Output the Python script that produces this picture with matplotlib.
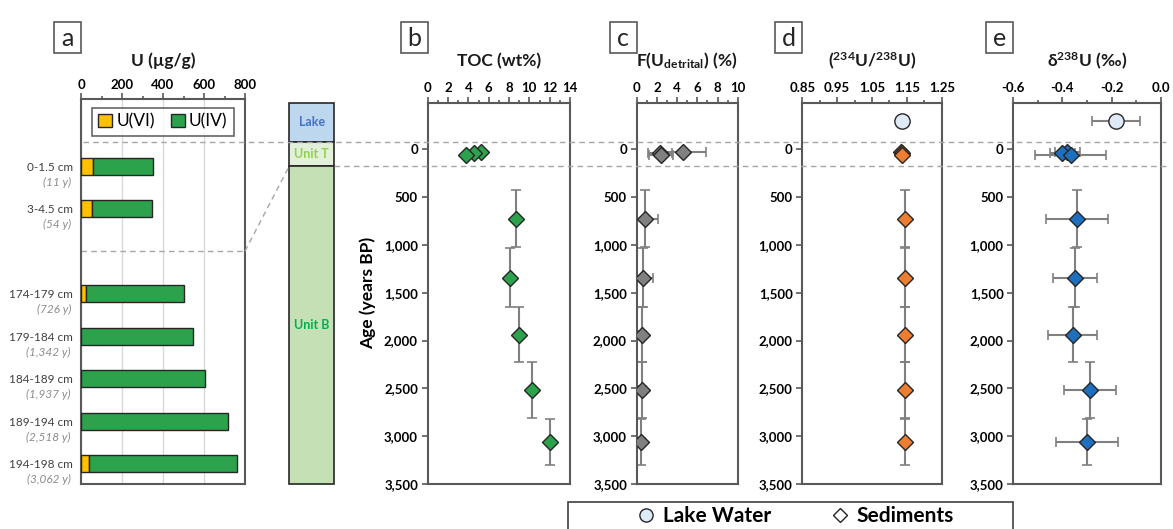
import matplotlib
matplotlib.use('Agg')
import matplotlib.pyplot as plt
from matplotlib.patches import Rectangle
from matplotlib.lines import Line2D
from matplotlib.ticker import MultipleLocator, FixedLocator, FuncFormatter, FormatStrFormatter
import matplotlib.transforms as mtransforms

plt.rcParams['font.family'] = ['Lato', 'DejaVu Sans']
plt.rcParams['mathtext.fontset'] = 'custom'
plt.rcParams['mathtext.rm'] = 'Lato'
plt.rcParams['mathtext.bf'] = 'Lato:bold'
plt.rcParams['mathtext.it'] = 'Lato:italic'
plt.rcParams['mathtext.sf'] = 'Lato'
plt.rcParams['axes.unicode_minus'] = False

# ---------------- data ----------------
depth_labels = ["0-1.5 cm", "3-4.5 cm", "174-179 cm", "179-184 cm",
                "184-189 cm", "189-194 cm", "194-198 cm"]
age_labels = ["(11 y)", "(54 y)", "(726 y)", "(1,342 y)", "(1,937 y)",
              "(2,518 y)", "(3,062 y)"]
u_vi = [58, 54, 24, 0, 0, 0, 39]
u_iv = [293, 294, 480, 545, 603, 719, 721]

units = ["Lake", "Unit T", "Unit B"]
unit_top = [-487, -76, 175]
unit_bottom = [-76, 175, 3500]

surf_ages = [25, 38, 60]
core_ages = [726, 1342, 1937, 2518, 3062]
core_age_err = [300, 305, 290, 295, 240]
lake_age = [-300]

toc_surf = [5.2, 4.6, 3.8]
toc_core = [8.7, 8.1, 9.0, 10.3, 12.05]

fdet_surf = [4.6, 2.3, 2.4]
fdet_surf_err = [2.3, 1.15, 1.15]
fdet_core = [0.82, 0.66, 0.5, 0.5, 0.4]
fdet_core_err = [1.3, 1.0, 0.4, 0.4, 0.4]

ar_lake = [1.137]
ar_surf = [1.133, 1.135, 1.137]
ar_core = [1.145, 1.145, 1.145, 1.146, 1.146]
ar_core_err = [0.004, 0.004, 0.004, 0.004, 0.004]

d238_lake = [-0.183]
d238_lake_err = [0.097]
d238_surf = [-0.38, -0.40, -0.367]
d238_surf_err = [0.05, 0.05, 0.145]
d238_core = [-0.34, -0.349, -0.358, -0.288, -0.30]
d238_core_err = [0.126, 0.09, 0.10, 0.107, 0.126]

# ---------------- layout helpers ----------------
W, H = 1173, 529
fig = plt.figure(figsize=(W / 100, H / 100), dpi=100)


def rect(l, t, r, b):
    return [l / W, 1 - b / H, (r - l) / W, (b - t) / H]


SP = '#595959'
DASH = '#a6a6a6'
ECOL = '#808080'
EDGE = '#262626'
MS = 8.5

# ---------------- panel a ----------------
ax_a = fig.add_axes(rect(81, 99, 245, 484))
bar_pos = [0, 1, 3, 4, 5, 6, 7]
ax_a.barh(bar_pos, u_vi, height=0.4, color='#ffc000', edgecolor=EDGE, lw=1, label='U(VI)', zorder=3)
ax_a.barh(bar_pos, u_iv, left=u_vi, height=0.4, color='#2ca24c', edgecolor=EDGE, lw=1, label='U(IV)', zorder=3)
ax_a.set_xlim(0, 800)
ax_a.set_ylim(7.48, -1.58)
ax_a.xaxis.tick_top()
ax_a.xaxis.set_major_locator(MultipleLocator(200))
ax_a.xaxis.set_minor_locator(MultipleLocator(100))
ax_a.grid(axis='x', which='major', color='#d9d9d9', lw=1, zorder=0)
ax_a.set_axisbelow(True)
ax_a.tick_params(axis='x', which='major', length=4, width=1.2, color=SP, labelsize=9.5, pad=2)
ax_a.tick_params(axis='x', which='minor', length=2.5, width=1.2, color=SP)
for lab in ax_a.get_xticklabels():
    lab.set_fontweight('bold')
ax_a.set_yticks(bar_pos, depth_labels)
ax_a.tick_params(axis='y', length=0, labelsize=8.5, labelcolor='#404040', pad=6)
for p, lab in zip(bar_pos, age_labels):
    ax_a.annotate(lab, xy=(0, p), xycoords=('axes fraction', 'data'), xytext=(-10, -16),
                  textcoords='offset pixels', ha='right', va='center', style='italic',
                  color='#8c8c8c', fontsize=8.5)
for s in ax_a.spines.values():
    s.set_color(SP)
    s.set_linewidth(1.5)
ax_a.axhline(2, color=DASH, ls=(0, (4, 3)), lw=1, zorder=1)
leg = ax_a.legend(loc='upper center', bbox_to_anchor=(0.5, 1), ncol=2, frameon=True, fancybox=False,
                  edgecolor='#404040', fontsize=12.5, handlelength=0.8, handleheight=0.8,
                  handletextpad=0.25, columnspacing=0.9, borderaxespad=0.5, borderpad=0.35)
leg.get_frame().set_linewidth(1.2)

# ---------------- lithology column ----------------
ax_col = fig.add_axes(rect(289.3, 102.7, 334, 484))
ax_col.set_xlim(0, 1)
ax_col.set_ylim(3500, -487)
ax_col.axis('off')
col_fill = ['#bdd7ee', '#e2f0d9', '#c5e0b4']
col_text = ['#4472c4', '#92d050', '#00b050']
for name, t, b, fc, tc in zip(units, unit_top, unit_bottom, col_fill, col_text):
    ax_col.bar(0.5, b - t, bottom=t, width=1, color=fc, edgecolor=EDGE, lw=1.2, clip_on=False)
    ax_col.text(0.5, (t + b) / 2, name, ha='center', va='center', color=tc,
                fontweight='bold', fontsize=9)

# ---------------- panels b-e ----------------
age_fmt = FuncFormatter(lambda v, p: f'{int(v):,}')


def setup(ax, xlim, major, minor, xfmt=None):
    ax.set_xlim(*xlim)
    ax.set_ylim(3500, -487)
    ax.xaxis.tick_top()
    ax.xaxis.set_major_locator(major)
    ax.xaxis.set_minor_locator(minor)
    if xfmt is not None:
        ax.xaxis.set_major_formatter(xfmt)
    ax.set_yticks(range(0, 3501, 500))
    ax.yaxis.set_major_formatter(age_fmt)
    ax.tick_params(axis='x', which='major', length=4, width=1.2, color=SP, labelsize=9.5, pad=2)
    ax.tick_params(axis='x', which='minor', length=2.5, width=1.2, color=SP)
    ax.tick_params(axis='y', length=4, width=1.2, color=SP, labelsize=9.5, pad=3)
    for lab in ax.get_xticklabels() + ax.get_yticklabels():
        lab.set_fontweight('bold')
    for s in ax.spines.values():
        s.set_color(SP)
        s.set_linewidth(1.5)


def errs(ax, x, y, xerr=None, yerr=None):
    ax.errorbar(x, y, xerr=xerr, yerr=yerr, fmt='none', ecolor=ECOL, elinewidth=1.5,
                capsize=3.5, capthick=1.2, zorder=2)


ax_b = fig.add_axes(rect(427.7, 102.7, 570, 484))
setup(ax_b, (0, 14), MultipleLocator(2), MultipleLocator(1))
errs(ax_b, toc_core, core_ages, yerr=core_age_err)
ax_b.plot(toc_surf, surf_ages, 'D', ms=MS, mfc='#2ca24c', mec=EDGE, mew=1, zorder=3)
ax_b.plot(toc_core, core_ages, 'D', ms=MS, mfc='#2ca24c', mec=EDGE, mew=1, zorder=3)

ax_c = fig.add_axes(rect(636.7, 102.7, 737.7, 484))
setup(ax_c, (0, 10), MultipleLocator(2), MultipleLocator(1))
errs(ax_c, fdet_surf, surf_ages, xerr=fdet_surf_err)
errs(ax_c, fdet_core, core_ages, xerr=fdet_core_err, yerr=core_age_err)
ax_c.plot(fdet_surf, surf_ages, 'D', ms=MS, mfc='#808080', mec=EDGE, mew=1, zorder=3)
ax_c.plot(fdet_core, core_ages, 'D', ms=MS, mfc='#808080', mec=EDGE, mew=1, zorder=3)

ax_d = fig.add_axes(rect(802.3, 102.7, 941.7, 484))
setup(ax_d, (0.85, 1.25), FixedLocator([0.85, 0.95, 1.05, 1.15, 1.25]),
      FixedLocator([0.9, 1.0, 1.1, 1.2]), FormatStrFormatter('%.2f'))
errs(ax_d, ar_core, core_ages, xerr=ar_core_err, yerr=core_age_err)
ax_d.plot(ar_lake, lake_age, 'o', ms=11, mfc='#deebf7', mec=EDGE, mew=1, zorder=3)
ax_d.plot(ar_surf, surf_ages, 'D', ms=MS, mfc='#ed7d31', mec=EDGE, mew=1, zorder=3)
ax_d.plot(ar_core, core_ages, 'D', ms=MS, mfc='#ed7d31', mec=EDGE, mew=1, zorder=3)

ax_e = fig.add_axes(rect(1013.3, 102.7, 1160.7, 484))
setup(ax_e, (-0.6, 0.0), MultipleLocator(0.2), MultipleLocator(0.1), FormatStrFormatter('%.1f'))
errs(ax_e, d238_lake, lake_age, xerr=d238_lake_err)
errs(ax_e, d238_surf, surf_ages, xerr=d238_surf_err)
errs(ax_e, d238_core, core_ages, xerr=d238_core_err, yerr=core_age_err)
ax_e.plot(d238_lake, lake_age, 'o', ms=11, mfc='#deebf7', mec=EDGE, mew=1, zorder=3)
ax_e.plot(d238_surf, surf_ages, 'D', ms=MS, mfc='#1f6fbf', mec=EDGE, mew=1, zorder=3)
ax_e.plot(d238_core, core_ages, 'D', ms=MS, mfc='#1f6fbf', mec=EDGE, mew=1, zorder=3)

ax_b.set_ylabel('Age (years BP)', fontsize=12.5, fontweight='bold', labelpad=6)

# ---------------- titles & panel letters ----------------
titles = [(ax_a, 'U (µg/g)'), (ax_b, 'TOC (wt%)'),
          (ax_c, r'$\mathbf{F(U_{detrital})\ (\%)}$'),
          (ax_d, r'$\mathbf{(^{234}U/^{238}U)}$'),
          (ax_e, r'$\mathbf{\delta^{238}U\ (‰)}$')]
for ax, t in titles:
    bb = ax.get_position()
    fig.text(bb.x0 + bb.width / 2, 1 - 61 / H, t, ha='center', va='center',
             fontsize=12.5, fontweight='bold', color='#1a1a1a')

for ax, letter in zip([ax_a, ax_b, ax_c, ax_d, ax_e], 'abcde'):
    x1 = ax.get_position().x0
    x0 = x1 - 27 / W
    fig.patches.append(Rectangle((x0, 1 - 53 / H), 27 / W, 31 / H, transform=fig.transFigure,
                                 fill=True, fc='white', ec=SP, lw=1.2))
    fig.text((x0 + x1) / 2, 1 - 38 / H, letter, ha='center', va='center', fontsize=18,
             color='#262626')

# ---------------- dashed connector lines ----------------
tr = mtransforms.blended_transform_factory(fig.transFigure, ax_b.transData)
fig.lines.append(Line2D([83 / W, 1166 / W], [unit_top[1], unit_top[1]], transform=tr,
                        color=DASH, ls=(0, (4, 3)), lw=1, zorder=0.5))
col_right = ax_col.get_position().x1
fig.lines.append(Line2D([col_right, 1166 / W], [unit_top[2], unit_top[2]], transform=tr,
                        color=DASH, ls=(0, (4, 3)), lw=1, zorder=0.5))
inv = fig.transFigure.inverted()
pA = inv.transform(ax_a.transData.transform((800, 2)))
pB = inv.transform(ax_col.transData.transform((0, unit_top[2])))
fig.lines.append(Line2D([pA[0], pB[0]], [pA[1], pB[1]], transform=fig.transFigure,
                        color=DASH, ls=(0, (4, 3)), lw=1))

# ---------------- bottom legend ----------------
handles = [Line2D([], [], marker='o', ls='', ms=9.5, mfc='#deebf7', mec=EDGE, mew=1),
           Line2D([], [], marker='D', ls='', ms=7, mfc='white', mec=EDGE, mew=1)]
fig.legend(handles, ['Lake Water', 'Sediments'], loc='center', bbox_to_anchor=(795 / W, 1 - 516.5 / H),
           ncol=2, frameon=False, prop={'weight': 'bold', 'size': 15}, columnspacing=2.8,
           handletextpad=0.3, handlelength=1.0)
fig.patches.append(Rectangle((568 / W, -0.02), 445 / W, (529 - 502) / H + 0.02,
                             transform=fig.transFigure, fill=False, ec='#404040', lw=1.2))

fig.savefig('out.png', dpi=100)
